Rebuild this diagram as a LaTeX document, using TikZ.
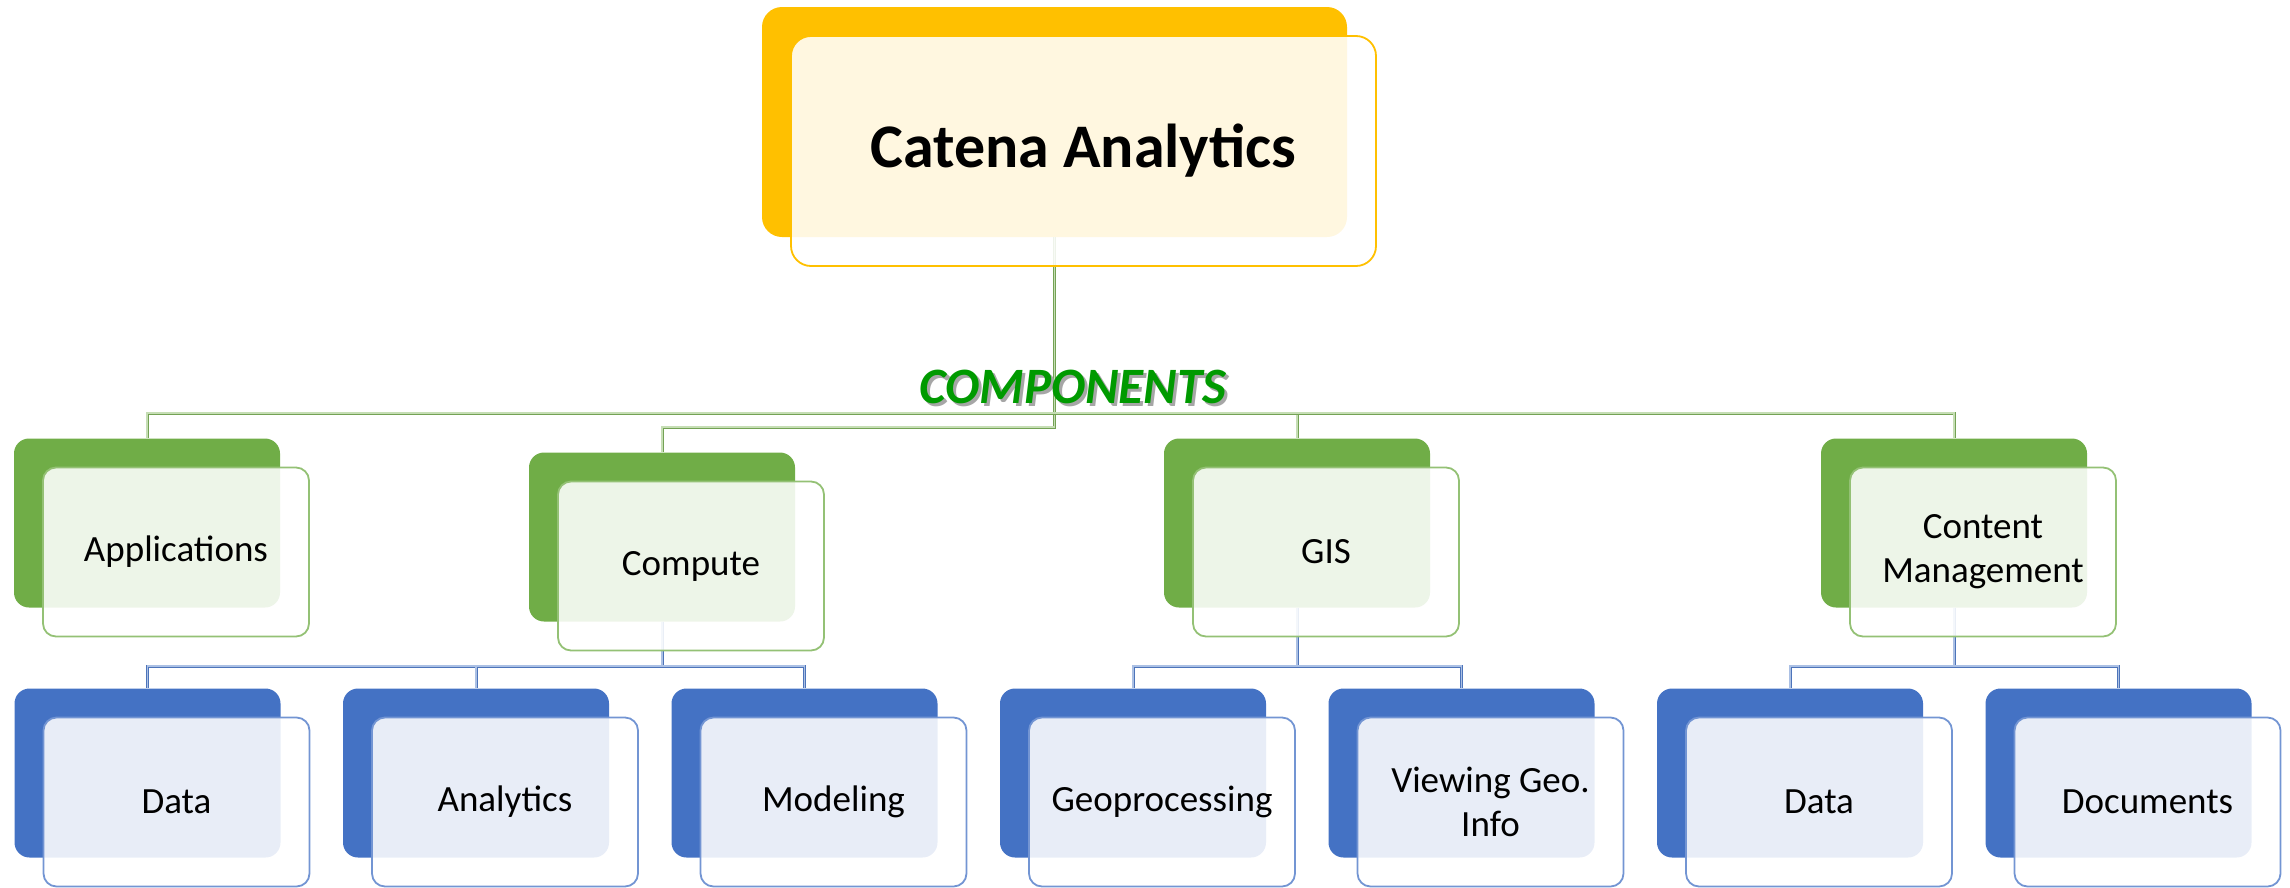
\documentclass[tikz,border=0pt]{standalone}
\usepackage{fontspec}
\setmainfont{Carlito}
\usetikzlibrary{positioning}

\definecolor{cyellow}{HTML}{FFC000}
\definecolor{cgreen}{HTML}{70AD47}
\definecolor{cblue}{HTML}{4472C4}
\definecolor{ctitle}{HTML}{009A00}

\begin{document}
\begin{tikzpicture}[
  x=1pt, y=-1pt,
  back/.style={rectangle, rounded corners=15pt, inner sep=0pt,
    minimum width=266pt, minimum height=169pt},
  front/.style={rectangle, draw, line width=1.8pt, rounded corners=13pt,
    fill=white, fill opacity=0.88, text opacity=1, inner sep=0pt,
    minimum width=266pt, minimum height=169pt, align=center,
    font=\fontsize{37}{44}\selectfont},
  gline/.style={draw=cgreen!75!gray, double=cgreen!40, double distance=1.4pt,
    line width=0.8pt},
  bline/.style={draw=cblue!85!gray, double=cblue!45, double distance=1.4pt,
    line width=0.8pt},
  comp/.style={font=\fontsize{51}{60}\selectfont\bfseries\itshape}
]
  \useasboundingbox (0,0) rectangle (2290,887);

  % back boxes
  \node[back, fill=cyellow, minimum width=585pt, minimum height=230pt,
    rounded corners=20pt] (rootb) at (1054.5,122) {};
  \node[back, fill=cgreen] (appsb) at (147,523) {};
  \node[back, fill=cgreen] (compb) at (662,537) {};
  \node[back, fill=cgreen] (gisb)  at (1297,523) {};
  \node[back, fill=cgreen] (cmb)   at (1954,523) {};
  \node[back, fill=cblue] (datab)  at (147.5,773) {};
  \node[back, fill=cblue] (anab)   at (476,773) {};
  \node[back, fill=cblue] (modb)   at (804.5,773) {};
  \node[back, fill=cblue] (geob)   at (1133,773) {};
  \node[back, fill=cblue] (viewb)  at (1461.5,773) {};
  \node[back, fill=cblue] (cdatab) at (1790,773) {};
  \node[back, fill=cblue] (docb)   at (2118.5,773) {};

  \coordinate (gbus) at (0,413);
  \coordinate (cbus) at (0,427);
  \coordinate (bbus) at (0,666);

  % connectors
  \draw[gline] (rootb.south) -- (rootb.south |- cbus) -| (compb.north);
  \draw[gline] (rootb.south |- gbus) -| (appsb.north);
  \draw[gline] (rootb.south |- gbus) -| (gisb.north);
  \draw[gline] (rootb.south |- gbus) -| (cmb.north);
  \draw[bline] (compb.south) -- (compb.south |- bbus) -| (datab.north);
  \draw[bline] (compb.south |- bbus) -| (anab.north);
  \draw[bline] (compb.south |- bbus) -| (modb.north);
  \draw[bline] (gisb.south) -- (gisb.south |- bbus) -| (geob.north);
  \draw[bline] (gisb.south |- bbus) -| (viewb.north);
  \draw[bline] (cmb.south) -- (cmb.south |- bbus) -| (cdatab.north);
  \draw[bline] (cmb.south |- bbus) -| (docb.north);

  % front boxes
  \node[front, draw=cyellow, minimum width=585pt, minimum height=230pt,
    rounded corners=20pt, font=\fontsize{62}{70}\selectfont\bfseries]
    (root) at ([shift={(29,29)}]rootb.center) {Catena Analytics};
  \node[front, draw=cgreen!75] (apps) at ([shift={(29,29)}]appsb.center)
    {Applications};
  \node[front, draw=cgreen!75] (comp) at ([shift={(29,29)}]compb.center)
    {Compute};
  \node[front, draw=cgreen!75] (gis) at ([shift={(29,29)}]gisb.center)
    {GIS};
  \node[front, draw=cgreen!75] (cm) at ([shift={(29,29)}]cmb.center)
    {Content\\Management};
  \node[front, draw=cblue!75] (data) at ([shift={(29,29)}]datab.center)
    {Data};
  \node[front, draw=cblue!75] (ana) at ([shift={(29,29)}]anab.center)
    {Analytics};
  \node[front, draw=cblue!75] (mod) at ([shift={(29,29)}]modb.center)
    {Modeling};
  \node[front, draw=cblue!75] (geo) at ([shift={(29,29)}]geob.center)
    {Geoprocessing};
  \node[front, draw=cblue!75] (view) at ([shift={(29,29)}]viewb.center)
    {Viewing Geo.\\Info};
  \node[front, draw=cblue!75] (cdata) at ([shift={(29,29)}]cdatab.center)
    {Data};
  \node[front, draw=cblue!75] (doc) at ([shift={(29,29)}]docb.center)
    {Documents};

  % title of the component row
  \node[comp, text=black!35] (compsh) at (1076,390) {COMPONENTS};
  \node[comp, text=ctitle] (comps) at (1073,387) {COMPONENTS};
\end{tikzpicture}
\end{document}
